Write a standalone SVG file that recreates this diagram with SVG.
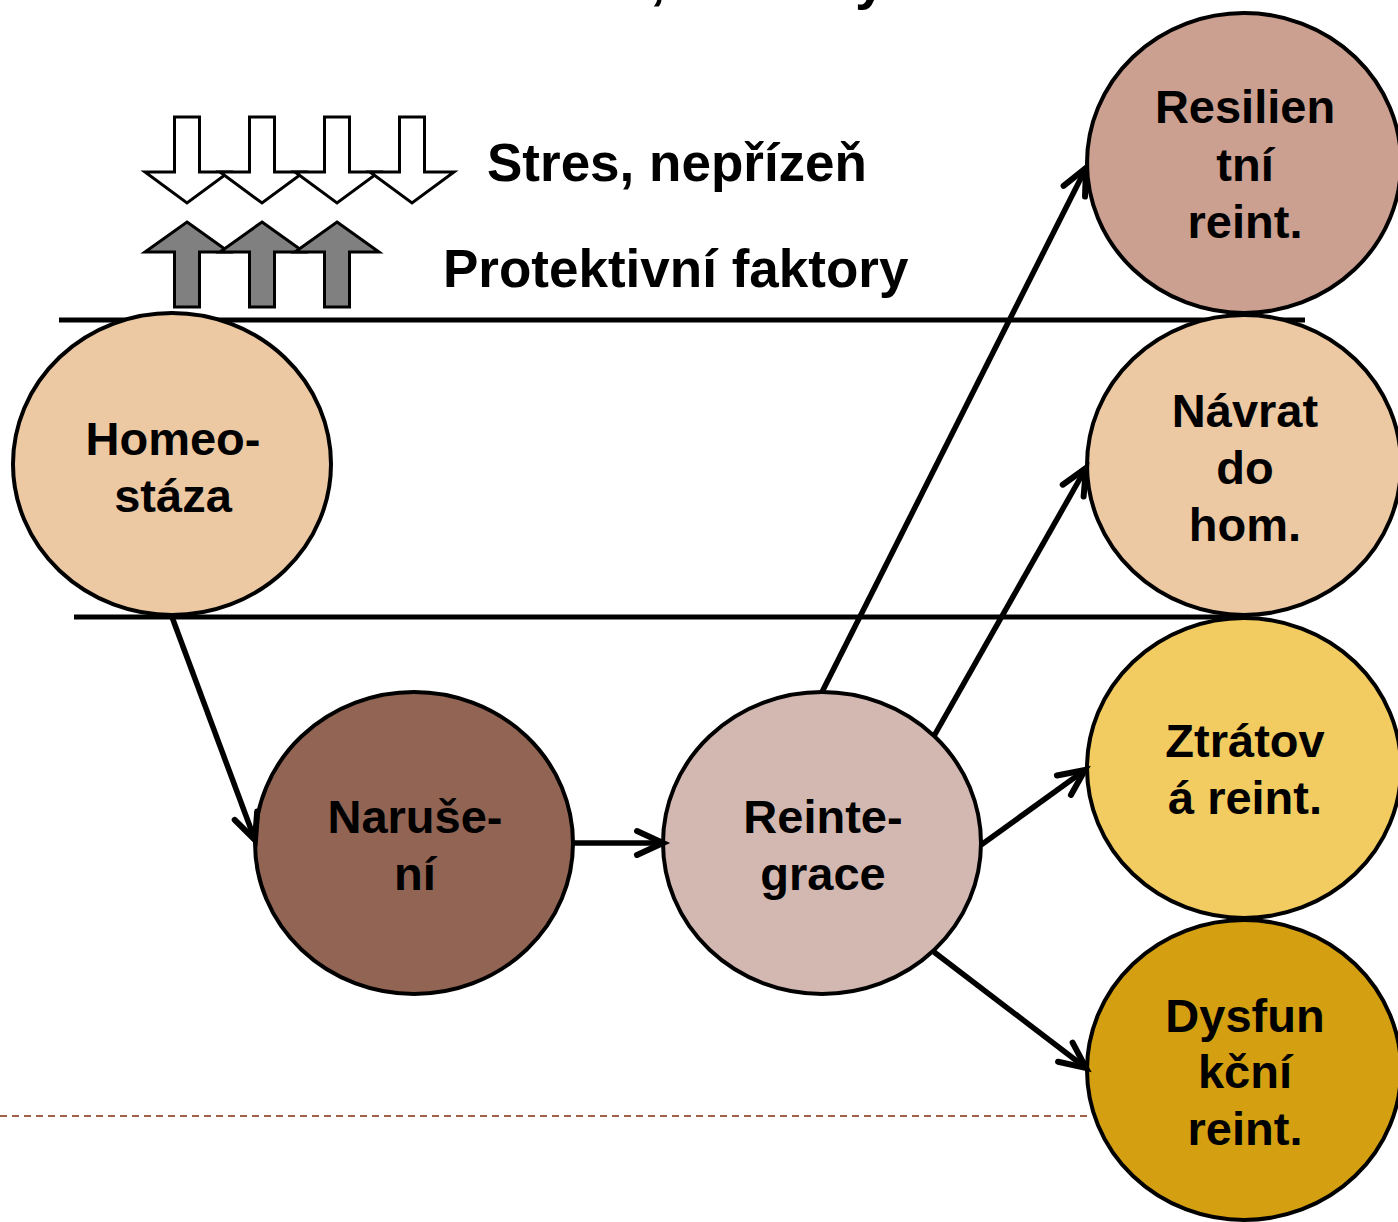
<svg xmlns="http://www.w3.org/2000/svg" width="1398" height="1222" viewBox="0 0 1398 1222">
<style>
.node ellipse{stroke:#000;stroke-width:4}
.node text{font-family:"Liberation Sans",Arial,sans-serif;font-weight:bold;font-size:47px;text-anchor:middle;fill:#000}
.lbl{font-family:"Liberation Sans",Arial,sans-serif;font-weight:bold;font-size:53px;fill:#000}
.conn line{stroke:#000;stroke-width:5.5;fill:none}
.band{stroke:#000;stroke-width:5}
.down{fill:#fff;stroke:#000;stroke-width:3;stroke-linejoin:miter}
.up{fill:#808080;stroke:#000;stroke-width:3;stroke-linejoin:miter}
</style>
<defs>
<marker id="ah" markerUnits="userSpaceOnUse" markerWidth="40" markerHeight="40" viewBox="-32 -20 40 40" refX="0" refY="0" orient="auto" overflow="visible">
<path d="M-26,-12 L0,0 L-26,12" fill="none" stroke="#000" stroke-width="6" stroke-linecap="round" stroke-linejoin="miter"/>
</marker>
</defs>
<rect width="1398" height="1222" fill="#fff"/>
<g id="title-fragment">
<text class="lbl" x="650" y="-2" style="font-size:56px">,</text>
<text class="lbl" x="855" y="-2" style="font-size:56px">y</text>
</g>
<g id="stress-arrows">
<polygon class="down" points="174.5,117 199.5,117 199.5,172 229,172 187,203 145,172 174.5,172"/>
<polygon class="down" points="249.5,117 274.5,117 274.5,172 304,172 262,203 220,172 249.5,172"/>
<polygon class="down" points="324.5,117 349.5,117 349.5,172 379,172 337,203 295,172 324.5,172"/>
<polygon class="down" points="399.5,117 424.5,117 424.5,172 454,172 412,203 370,172 399.5,172"/>
<text class="lbl" x="487" y="181">Stres, nepřízeň</text>
</g>
<g id="protective-arrows">
<polygon class="up" points="187,222 229,252 199.5,252 199.5,307 174.5,307 174.5,252 145,252"/>
<polygon class="up" points="262,222 304,252 274.5,252 274.5,307 249.5,307 249.5,252 220,252"/>
<polygon class="up" points="337,222 379,252 349.5,252 349.5,307 324.5,307 324.5,252 295,252"/>
<text class="lbl" x="443" y="287">Protektivní faktory</text>
</g>
<g id="bands">
<line class="band" x1="59" y1="320" x2="1305" y2="320"/>
<line class="band" x1="74" y1="617" x2="1250" y2="617"/>
<line x1="0" y1="1116" x2="1087" y2="1116" stroke="#A0604A" stroke-width="2" stroke-dasharray="7 5"/>
</g>
<g id="homeostaza" class="node">
<ellipse cx="172" cy="464" rx="159" ry="151" fill="#ECC8A3"/>
<text x="173" y="455">Homeo-</text>
<text x="173" y="512">stáza</text>
</g>
<g id="naruseni" class="node">
<ellipse cx="414" cy="843" rx="159" ry="151" fill="#916454"/>
<text x="415" y="833">Naruše-</text>
<text x="415" y="890">ní</text>
</g>
<g id="reintegrace" class="node">
<ellipse cx="822" cy="843" rx="159" ry="151" fill="#D3B8B2"/>
<text x="823" y="833">Reinte-</text>
<text x="823" y="890">grace</text>
</g>
<g id="resilientni" class="node">
<ellipse cx="1244" cy="163" rx="157" ry="150" fill="#CCA090"/>
<text x="1245" y="123">Resilien</text>
<text x="1245" y="181">tní</text>
<text x="1245" y="238">reint.</text>
</g>
<g id="navrat" class="node">
<ellipse cx="1244" cy="465" rx="157" ry="150" fill="#ECC8A3"/>
<text x="1245" y="427">Návrat</text>
<text x="1245" y="484">do</text>
<text x="1245" y="541">hom.</text>
</g>
<g id="ztratova" class="node">
<ellipse cx="1244" cy="768" rx="157" ry="150" fill="#F2CC60"/>
<text x="1245" y="757">Ztrátov</text>
<text x="1245" y="814">á reint.</text>
</g>
<g id="dysfunkcni" class="node">
<ellipse cx="1244" cy="1070" rx="157" ry="150" fill="#D4A012"/>
<text x="1245" y="1032">Dysfun</text>
<text x="1245" y="1088">kční</text>
<text x="1245" y="1145">reint.</text>
</g>
<g id="connectors" class="conn">
<line x1="172" y1="617" x2="255" y2="840" marker-end="url(#ah)"/>
<line x1="573" y1="843" x2="663" y2="843" marker-end="url(#ah)"/>
<line x1="822" y1="692" x2="1086" y2="168" marker-end="url(#ah)"/>
<line x1="934" y1="736" x2="1086" y2="468" marker-end="url(#ah)"/>
<line x1="981" y1="845" x2="1085" y2="770" marker-end="url(#ah)"/>
<line x1="934" y1="952" x2="1086" y2="1068" marker-end="url(#ah)"/>
</g>
</svg>
